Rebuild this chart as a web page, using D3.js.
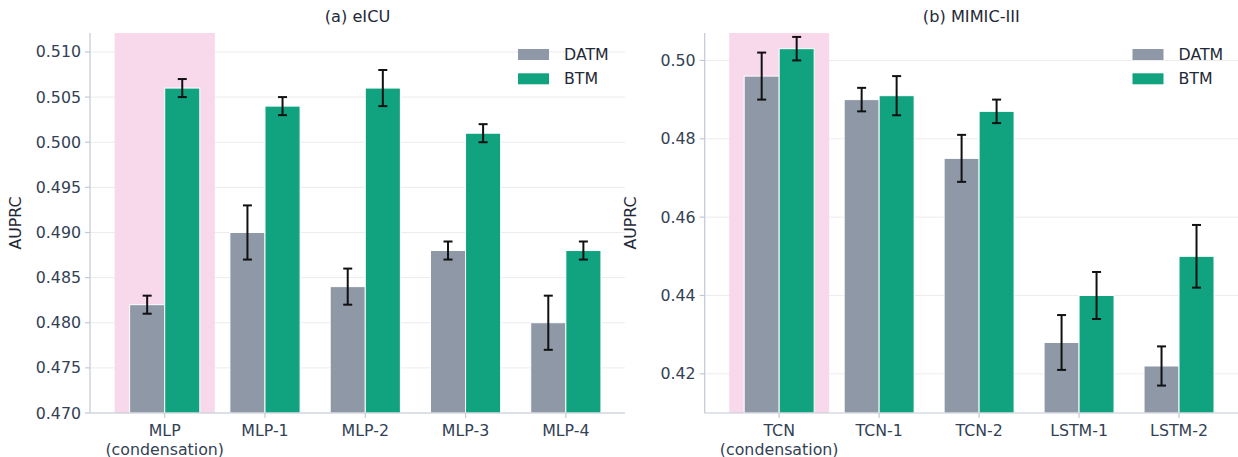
<!DOCTYPE html>
<html>
<head>
<meta charset="utf-8">
<script src="https://cdnjs.cloudflare.com/ajax/libs/d3/7.8.5/d3.min.js"></script>
<style>
	body { margin: 0; background: #fff; }
	svg { font-family: "DejaVu Sans", sans-serif; }
</style>
</head>
<body>
<svg id="svg" width="1238" height="457"></svg>
<script>
// data
var seriesNames = ["DATM", "BTM"];

var eicuCats = [["MLP", "(condensation)"], ["MLP-1"], ["MLP-2"], ["MLP-3"], ["MLP-4"]];
var eicuDatm = [0.482, 0.490, 0.484, 0.488, 0.480];
var eicuDatmErr = [0.001, 0.003, 0.002, 0.001, 0.003];
var eicuBtm = [0.506, 0.504, 0.506, 0.501, 0.488];
var eicuBtmErr = [0.001, 0.001, 0.002, 0.001, 0.001];
var eicuTicks = [0.470, 0.475, 0.480, 0.485, 0.490, 0.495, 0.500, 0.505, 0.510];

var mimicCats = [["TCN", "(condensation)"], ["TCN-1"], ["TCN-2"], ["LSTM-1"], ["LSTM-2"]];
var mimicDatm = [0.496, 0.490, 0.475, 0.428, 0.422];
var mimicDatmErr = [0.006, 0.003, 0.006, 0.007, 0.005];
var mimicBtm = [0.503, 0.491, 0.487, 0.440, 0.450];
var mimicBtmErr = [0.003, 0.005, 0.003, 0.006, 0.008];
var mimicTicks = [0.42, 0.44, 0.46, 0.48, 0.50];

var colors = ["#8e98a7", "#11a37f"];
var textColor = "#334155";
var spineColor = "#c3c9d4";
var fs = "15.8px";

var svg = d3.select("svg");

function panel(opt) {
	var x = d3.scaleLinear().domain([-0.745, 4.59]).range([opt.left, opt.right]);
	var y = d3.scaleLinear().domain(opt.yDomain).range([413, 33]);
	var g = svg.append("g");
	var bw = 0.35;

	// grid
	g.append("g").selectAll("line")
		.data(opt.ticks)
		.enter().append("line")
		.attr("x1", opt.left).attr("x2", opt.right)
		.attr("y1", function (d) { return y(d); })
		.attr("y2", function (d) { return y(d); })
		.style("stroke", "#ececec").style("stroke-width", 1);

	// highlight span
	g.append("rect")
		.attr("x", x(-0.5)).attr("width", x(0.5) - x(-0.5))
		.attr("y", 33).attr("height", 413 - 33)
		.style("fill", "#f8d9ec");

	var series = [
		{ vals: opt.datm, err: opt.datmErr, off: -bw / 2, color: colors[0] },
		{ vals: opt.btm, err: opt.btmErr, off: bw / 2, color: colors[1] }
	];

	series.forEach(function (s) {
		g.append("g").selectAll("rect")
			.data(s.vals)
			.enter().append("rect")
			.attr("x", function (d, i) { return x(i + s.off - bw / 2); })
			.attr("width", x(bw) - x(0))
			.attr("y", function (d) { return y(d); })
			.attr("height", function (d) { return 413 - y(d); })
			.style("fill", s.color)
			.style("stroke", "#fff")
			.style("stroke-width", 1);
	});

	series.forEach(function (s) {
		var eb = g.append("g").style("stroke", "#111").style("stroke-width", 2);
		s.vals.forEach(function (v, i) {
			var cx = x(i + s.off);
			var y0 = y(v - s.err[i]), y1 = y(v + s.err[i]);
			eb.append("line").attr("x1", cx).attr("x2", cx).attr("y1", y0).attr("y2", y1);
			eb.append("line").attr("x1", cx - 4.5).attr("x2", cx + 4.5).attr("y1", y0).attr("y2", y0);
			eb.append("line").attr("x1", cx - 4.5).attr("x2", cx + 4.5).attr("y1", y1).attr("y2", y1);
		});
	});

	// spines
	g.append("line").attr("x1", opt.left).attr("x2", opt.left).attr("y1", 33).attr("y2", 413)
		.style("stroke", spineColor).style("stroke-width", 1.2);
	g.append("line").attr("x1", opt.left).attr("x2", opt.right).attr("y1", 413).attr("y2", 413)
		.style("stroke", spineColor).style("stroke-width", 1.2);

	// y ticks
	var yt = g.append("g").selectAll("g")
		.data(opt.ticks)
		.enter().append("g")
		.attr("transform", function (d) { return "translate(0," + y(d) + ")"; });
	yt.append("line").attr("x1", opt.left - 5).attr("x2", opt.left)
		.style("stroke", spineColor).style("stroke-width", 1.2);
	yt.append("text")
		.attr("x", opt.left - 9)
		.attr("dy", "0.35em")
		.attr("text-anchor", "end")
		.style("font-size", fs).style("fill", textColor)
		.text(function (d) { return d.toFixed(opt.digits); });

	// x ticks
	var xt = g.append("g").selectAll("g")
		.data(opt.cats)
		.enter().append("g")
		.attr("transform", function (d, i) { return "translate(" + x(i) + ",413)"; });
	xt.append("line").attr("y1", 0).attr("y2", 5)
		.style("stroke", spineColor).style("stroke-width", 1.2);
	xt.each(function (d) {
		var t = d3.select(this);
		d.forEach(function (line, k) {
			t.append("text")
				.attr("y", 23 + k * 18.5)
				.attr("text-anchor", "middle")
				.style("font-size", fs).style("fill", textColor)
				.text(line);
		});
	});

	// y label
	g.append("text")
		.attr("transform", "translate(" + (opt.left - 69) + ",223) rotate(-90)")
		.attr("text-anchor", "middle")
		.style("font-size", fs).style("fill", "#1f2937")
		.text("AUPRC");

	// title
	g.append("text")
		.attr("x", (opt.left + opt.right) / 2)
		.attr("y", 21.5)
		.attr("text-anchor", "middle")
		.style("font-size", "16.2px").style("fill", "#1f2937")
		.text(opt.title);

	// legend
	var lg = g.append("g").selectAll("g")
		.data(seriesNames)
		.enter().append("g")
		.attr("transform", function (d, i) { return "translate(" + opt.legendX + "," + (54.5 + i * 24.3) + ")"; });
	lg.append("rect")
		.attr("x", 0).attr("y", -5.5).attr("width", 31).attr("height", 11)
		.style("fill", function (d, i) { return colors[i]; });
	lg.append("text")
		.attr("x", 46).attr("dy", "0.35em")
		.style("font-size", fs).style("fill", "#1f2937")
		.text(function (d) { return d; });
}

panel({
	left: 90, right: 625, yDomain: [0.470, 0.5121], ticks: eicuTicks, digits: 3,
	cats: eicuCats, datm: eicuDatm, datmErr: eicuDatmErr, btm: eicuBtm, btmErr: eicuBtmErr,
	title: "(a) eICU", legendX: 518
});

panel({
	left: 704.7, right: 1238, yDomain: [0.41, 0.507], ticks: mimicTicks, digits: 2,
	cats: mimicCats, datm: mimicDatm, datmErr: mimicDatmErr, btm: mimicBtm, btmErr: mimicBtmErr,
	title: "(b) MIMIC-III", legendX: 1132.5
});
</script>
</body>
</html>
